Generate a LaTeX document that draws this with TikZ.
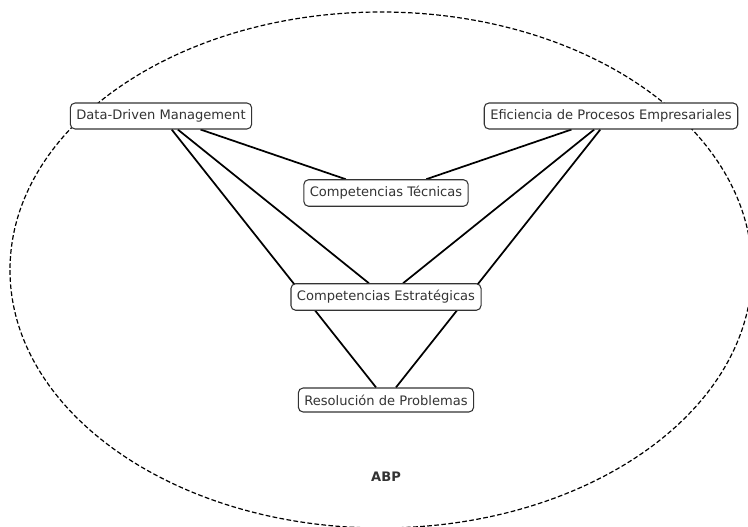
\documentclass[tikz,border=0pt]{standalone}
\usepackage{fontspec}
\setmainfont{DejaVu Sans}
\usepackage{xcolor}
\definecolor{mygray}{rgb}{0.2,0.2,0.2}
\usetikzlibrary{graphs,backgrounds}

\begin{document}
\begin{tikzpicture}[x=0.75pt,y=-0.75pt,
        topic/.style={draw=mygray,fill=white,rounded corners=3.5pt,text=mygray,
            font=\fontsize{9.8}{11}\selectfont,inner xsep=4.5pt,inner ysep=5pt,line width=0.8pt},
        link/.style={line width=1.3pt}]
        \useasboundingbox (0,0) rectangle (748,527);
        \node[topic] (ddm) at (161,116) {Data-Driven Management};
        \node[topic] (epe) at (611,116) {Eficiencia de Procesos Empresariales};
        \node[topic] (ct) at (386,193) {Competencias Técnicas};
        \node[topic] (ce) at (386,297) {Competencias Estratégicas};
        \node[topic] (rp) at (386,400) {Resolución de Problemas};
        \node[text=mygray,font=\fontsize{9.8}{11}\selectfont\bfseries] (abp) at (386,477) {ABP};
        \begin{scope}[on background layer]
            \draw[line width=0.9pt,dash pattern=on 3.5pt off 1.8pt] (381,270) ellipse [x radius=278.25pt, y radius=193.5pt];
            \graph[use existing nodes, edges=link]{
                ddm -- {ct, ce, rp};
                epe -- {ct, ce, rp};
            };
        \end{scope}
    \end{tikzpicture}
\end{document}
